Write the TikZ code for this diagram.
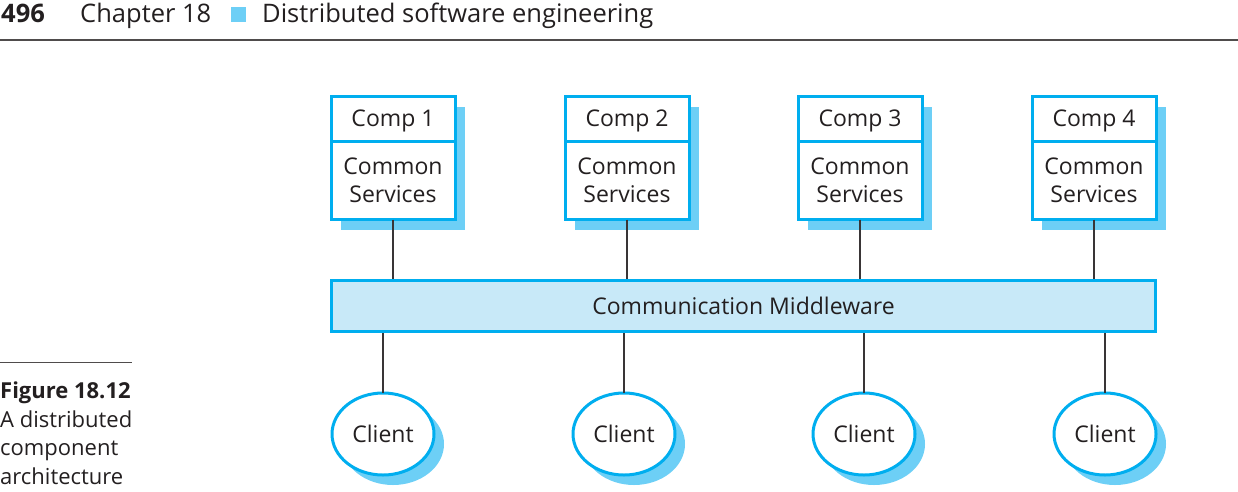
\documentclass[tikz,border=0pt]{standalone}
\usepackage{fontspec}
\setmainfont{Open Sans}
\usetikzlibrary{positioning,shadows,shapes.geometric}
\definecolor{boxcyan}{HTML}{00AEEF}
\definecolor{shadowblue}{HTML}{6DCFF6}
\definecolor{mwfill}{HTML}{C8E9F8}
\definecolor{inkgray}{HTML}{231F20}

\begin{document}
\begin{tikzpicture}[x=1pt,y=-1pt]
			\tikzstyle{comp}=[draw=boxcyan, line width=3pt, fill=white, text=inkgray, outer sep=0pt, inner sep=0pt, minimum width=124pt, align=center, font=\fontsize{23}{28}\selectfont, drop shadow={shadow xshift=10pt, shadow yshift=-10pt, fill=shadowblue, opacity=1}]
			\tikzstyle{client}=[comp, ellipse, minimum width=102pt, minimum height=82pt]
			\tikzstyle{link}=[line width=1.5pt, draw=inkgray!90]

			\useasboundingbox (0,0) rectangle (1238,491);

			% running head
			\node (page) [anchor=base west, inner sep=0pt, text=inkgray, font=\fontsize{25.5}{28}\selectfont\bfseries] at (1,22) {496};
			\node (chap) [anchor=base west, inner sep=0pt, text=inkgray, font=\fontsize{25.5}{28}\selectfont] at (80,22) {Chapter 18};
			\node (mark) [fill=shadowblue, inner sep=0pt, minimum size=15pt, anchor=north west] at (231,7) {};
			\node (title) [anchor=base west, inner sep=0pt, text=inkgray, font=\fontsize{25.5}{28}\selectfont] at (262,22) {Distributed software engineering};
			\draw [line width=1.5pt, inkgray!80] (0,40) -- (1238,40);

			% caption
			\draw [line width=1pt, inkgray!80] (0,362) -- (132,362);
			\node (cap) [anchor=north west, inner sep=0pt, align=left, text=inkgray, font=\fontsize{22}{28.5}\selectfont] at (0,382) {\textbf{Figure 18.12}\\A distributed\\component\\architecture};

			% components
			\node (C1) [comp, minimum height=44.5pt, text depth=1pt] at (393,118.75) {Comp 1};
			\node (S1) [comp, minimum height=78.5pt, below=0pt of C1] {Common\\Services};
			\node (C2) [comp, minimum height=44.5pt, text depth=1pt] at (627,118.75) {Comp 2};
			\node (S2) [comp, minimum height=78.5pt, below=0pt of C2] {Common\\Services};
			\node (C3) [comp, minimum height=44.5pt, text depth=1pt] at (860,118.75) {Comp 3};
			\node (S3) [comp, minimum height=78.5pt, below=0pt of C3] {Common\\Services};
			\node (C4) [comp, minimum height=44.5pt, text depth=1pt] at (1094,118.75) {Comp 4};
			\node (S4) [comp, minimum height=78.5pt, below=0pt of C4] {Common\\Services};

			% middleware
			\node (MW) [draw=boxcyan, line width=3pt, fill=mwfill, text=inkgray, inner sep=0pt, minimum width=824pt, minimum height=51pt, font=\fontsize{23}{28}\selectfont] at (743.5,306) {Communication Middleware};

			% clients
			\node (K1) [client] at (383,434) {Client};
			\node (K2) [client] at (624,434) {Client};
			\node (K3) [client] at (864,434) {Client};
			\node (K4) [client] at (1105,434) {Client};

			\draw [link] (S1.south) -- (S1.south |- MW.north);
			\draw [link] (S2.south) -- (S2.south |- MW.north);
			\draw [link] (S3.south) -- (S3.south |- MW.north);
			\draw [link] (S4.south) -- (S4.south |- MW.north);

			\draw [link] (K1.north |- MW.south) -- (K1.north);
			\draw [link] (K2.north |- MW.south) -- (K2.north);
			\draw [link] (K3.north |- MW.south) -- (K3.north);
			\draw [link] (K4.north |- MW.south) -- (K4.north);
		\end{tikzpicture}
\end{document}
